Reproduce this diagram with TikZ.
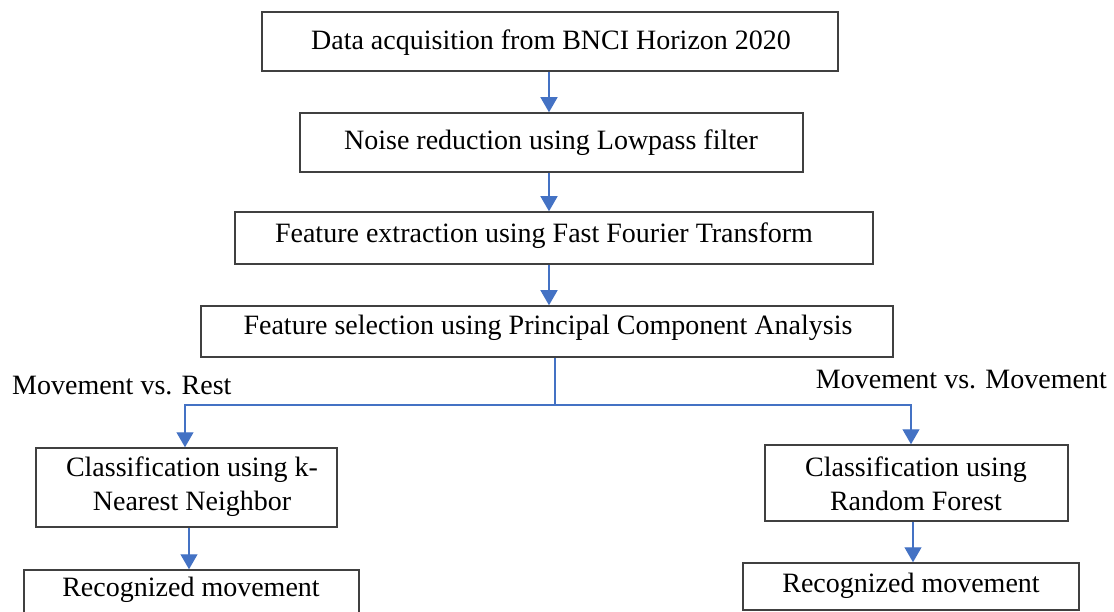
\documentclass[tikz,border=0pt]{standalone}
\usepackage{fontspec}
\setmainfont{Liberation Serif}
\usetikzlibrary{arrows.meta}
\definecolor{flowblue}{RGB}{68,114,196}
\definecolor{boxline}{RGB}{64,64,64}
\begin{document}
\begin{tikzpicture}[x=1pt,y=-1pt,
  box/.style={draw=boxline, line width=1.5pt, fill=white, inner sep=0pt},
  txt/.style={font=\fontsize{28}{34}\selectfont, inner sep=0pt, align=center},
  conn/.style={draw=flowblue, line width=1.3pt},
  arr/.style={conn, -{Triangle[length=15pt,width=17pt]}}]
\useasboundingbox (0,0) rectangle (1114,612);
\clip (0,0) rectangle (1114,612);
% process boxes
\node[box, minimum width=576pt, minimum height=59pt] (b1) at (550,41.5) {};
\node[box, minimum width=503pt, minimum height=59pt] (b2) at (551.5,142.5) {};
\node[box, minimum width=638pt, minimum height=52pt] (b3) at (554,238) {};
\node[box, minimum width=692pt, minimum height=51pt] (b4) at (547,331.5) {};
\node[box, minimum width=301pt, minimum height=79pt] (b5) at (186.5,487.5) {};
\node[box, minimum width=303pt, minimum height=76pt] (b6) at (916.5,483) {};
\node[box, minimum width=335pt, minimum height=60pt] (b7) at (191.5,600) {};
\node[box, minimum width=336pt, minimum height=47pt] (b8) at (911,586.5) {};
% box texts
\node[txt] (t1) at (551,43) {Data acquisition from BNCI Horizon 2020};
\node[txt] (t2) at (551,143) {Noise reduction using Lowpass filter};
\node[txt] (t3) at (544,236) {Feature extraction using Fast Fourier Transform};
\node[txt] (t4) at (548,328) {Feature selection using Principal Component Analysis};
\node[txt] (t5) at (192,487) {Classification using k-\\Nearest Neighbor};
\node[txt] (t6) at (916,484) {Classification using\\Random Forest};
\node[txt] (t7) at (191,590) {Recognized movement};
\node[txt] (t8) at (911,586) {Recognized movement};
% branch labels
\node[txt, anchor=west] (l1) at (12,386) {Movement vs. Rest};
\node[txt, anchor=east] (l2) at (1107,380) {Movement vs. Movement};
% connectors
\coordinate (ax) at (549,0);
\coordinate (split) at (555,405);
\draw[arr] (b1.south -| ax) -- (b2.north -| ax);
\draw[arr] (b2.south -| ax) -- (b3.north -| ax);
\draw[arr] (b3.south -| ax) -- (b4.north -| ax);
\draw[conn] (b4.south -| split) -- (split);
\draw[arr] (split) -| ([xshift=-1.5pt]b5.north);
\draw[arr] (split) -| ([xshift=-5.5pt]b6.north);
\draw[arr] ([xshift=2.5pt]b5.south) -- ([xshift=2.5pt]b5.south |- b7.north);
\draw[arr] ([xshift=-3.5pt]b6.south) -- ([xshift=-3.5pt]b6.south |- b8.north);
\end{tikzpicture}
\end{document}
